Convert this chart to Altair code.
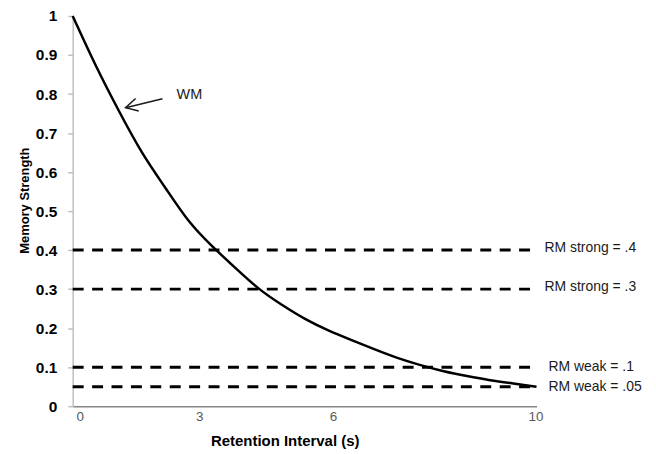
import altair as alt
import pandas as pd

# Working-memory decay curve
t_vals = [0, 0.5, 1, 1.5, 2, 2.5, 3, 3.5, 4, 4.5, 5, 5.5, 6, 6.5, 7, 7.5, 8, 8.5, 9, 9.5, 10]
wm_vals = [1.00, 0.87, 0.755, 0.645, 0.56, 0.47, 0.41, 0.355, 0.30, 0.26, 0.223, 0.194,
           0.17, 0.146, 0.123, 0.105, 0.089, 0.077, 0.066, 0.058, 0.05]

# Reference-memory levels
rm_levels = [0.4, 0.3, 0.1, 0.05]
rm_labels = ["RM strong = .4", "RM strong = .3", "RM weak = .1", "RM weak = .05"]
rm_kind = ["strong", "strong", "weak", "weak"]

# x tick labels as placed in the picture
x_tick_pos = [0.15, 2.73, 5.61, 9.98]
x_tick_text = ["0", "3", "6", "10"]
y_ticks = [0, 0.1, 0.2, 0.3, 0.4, 0.5, 0.6, 0.7, 0.8, 0.9, 1.0]

# WM annotation
wm_text_pos = [2.24, 0.798]
arrow_from = [1.935, 0.788]
arrow_to = [1.14, 0.765]

FONT = "Liberation Sans"

curve_df = pd.DataFrame({"t": t_vals, "m": wm_vals})
rm_df = pd.DataFrame({"level": rm_levels, "label": rm_labels, "kind": rm_kind,
                      "x0": [t_vals[0]] * 4, "x1": [t_vals[-1]] * 4})
wm_df = pd.DataFrame({"t": [wm_text_pos[0]], "m": [wm_text_pos[1]], "label": ["WM"]})
arrow_df = pd.DataFrame({"x": [arrow_from[0]], "y": [arrow_from[1]],
                         "x2": [arrow_to[0]], "y2": [arrow_to[1]]})
head_df = pd.DataFrame({"x": [arrow_to[0]], "y": [arrow_to[1]]})

expr = "''"
for p, s in reversed(list(zip(x_tick_pos, x_tick_text))):
    expr = f"abs(datum.value - {p}) < 0.01 ? '{s}' : ({expr})"

x_scale = alt.Scale(domain=[0, 10], nice=False, zero=False)
y_scale = alt.Scale(domain=[0, 1], nice=False)

x_axis = alt.Axis(
    title="Retention Interval (s)", values=x_tick_pos, labelExpr=expr,
    ticks=False, tickSize=0, grid=False, labelFlush=False, labelOverlap=False,
    domainColor="#868686", domainWidth=1.5,
    labelFont=FONT, labelFontSize=13.5, labelColor="#595959",
    labelBaseline="middle", labelPadding=10,
    titleFont=FONT, titleFontSize=15, titleFontWeight="bold", titleColor="#000000",
    titleX=213, titleY=35, titleBaseline="middle",
)
y_axis = alt.Axis(
    title="Memory Strength", values=y_ticks, format=".1~f",
    grid=False, labelFlush=False, labelOverlap=False,
    domainColor="#BFBFBF", domainWidth=1.5, tickColor="#BFBFBF", tickSize=5, tickWidth=1.5,
    labelFont=FONT, labelFontSize=15.5, labelFontWeight="bold", labelColor="#000000",
    labelPadding=11,
    titleFont=FONT, titleFontSize=13, titleFontWeight="bold", titleColor="#000000",
    titleX=-48, titleY=185, titleBaseline="middle", titleAngle=270,
)

def X(field):
    return alt.X(field, type="quantitative", scale=x_scale, axis=x_axis)

def Y(field):
    return alt.Y(field, type="quantitative", scale=y_scale, axis=y_axis)

curve = alt.Chart(curve_df).mark_line(color="black", strokeWidth=2.5, interpolate="basis").encode(
    x=X("t"), y=Y("m"),
)

rules = alt.Chart(rm_df).mark_rule(color="black", strokeWidth=3, strokeDash=[11, 8.5]).encode(
    x=X("x0"), x2="x1:Q", y=Y("level")
)

strong_lbl = alt.Chart(rm_df).transform_filter(alt.datum.kind == "strong").mark_text(
    align="left", baseline="middle", dx=8, dy=-2, font=FONT, fontSize=14, color="#1a1a1a"
).encode(x=X("x1"), y=Y("level"), text="label:N")

weak_lbl = alt.Chart(rm_df).transform_filter(alt.datum.kind == "weak").mark_text(
    align="left", baseline="middle", dx=12, dy=0, font=FONT, fontSize=14, color="#1a1a1a"
).encode(x=X("x1"), y=Y("level"), text="label:N")

wm_lbl = alt.Chart(wm_df).mark_text(
    align="left", baseline="middle", font=FONT, fontSize=14.5, color="#1a1a1a"
).encode(x=X("t"), y=Y("m"), text="label:N")

arrow = alt.Chart(arrow_df).mark_rule(color="#1a1a1a", strokeWidth=1.5).encode(
    x=X("x"), y=Y("y"), x2="x2:Q", y2="y2:Q"
)

head = alt.Chart(head_df).mark_point(
    shape="M 2.4 -1.3 L 0 0 L 2.4 1.3", size=100, filled=False, color="#1a1a1a",
    strokeWidth=1.5, angle=346, opacity=1
).encode(x=X("x"), y=Y("y"))

chart = alt.layer(curve, rules, strong_lbl, weak_lbl, wm_lbl, arrow, head).properties(
    width=466, height=392,
    padding={"left": 65, "top": 7, "right": 112, "bottom": 44},
    autosize=alt.AutoSizeParams(type="none"),
    background="white",
).configure_view(strokeWidth=0)

chart.save("out.html", embed_options={"renderer": "svg", "actions": False})
